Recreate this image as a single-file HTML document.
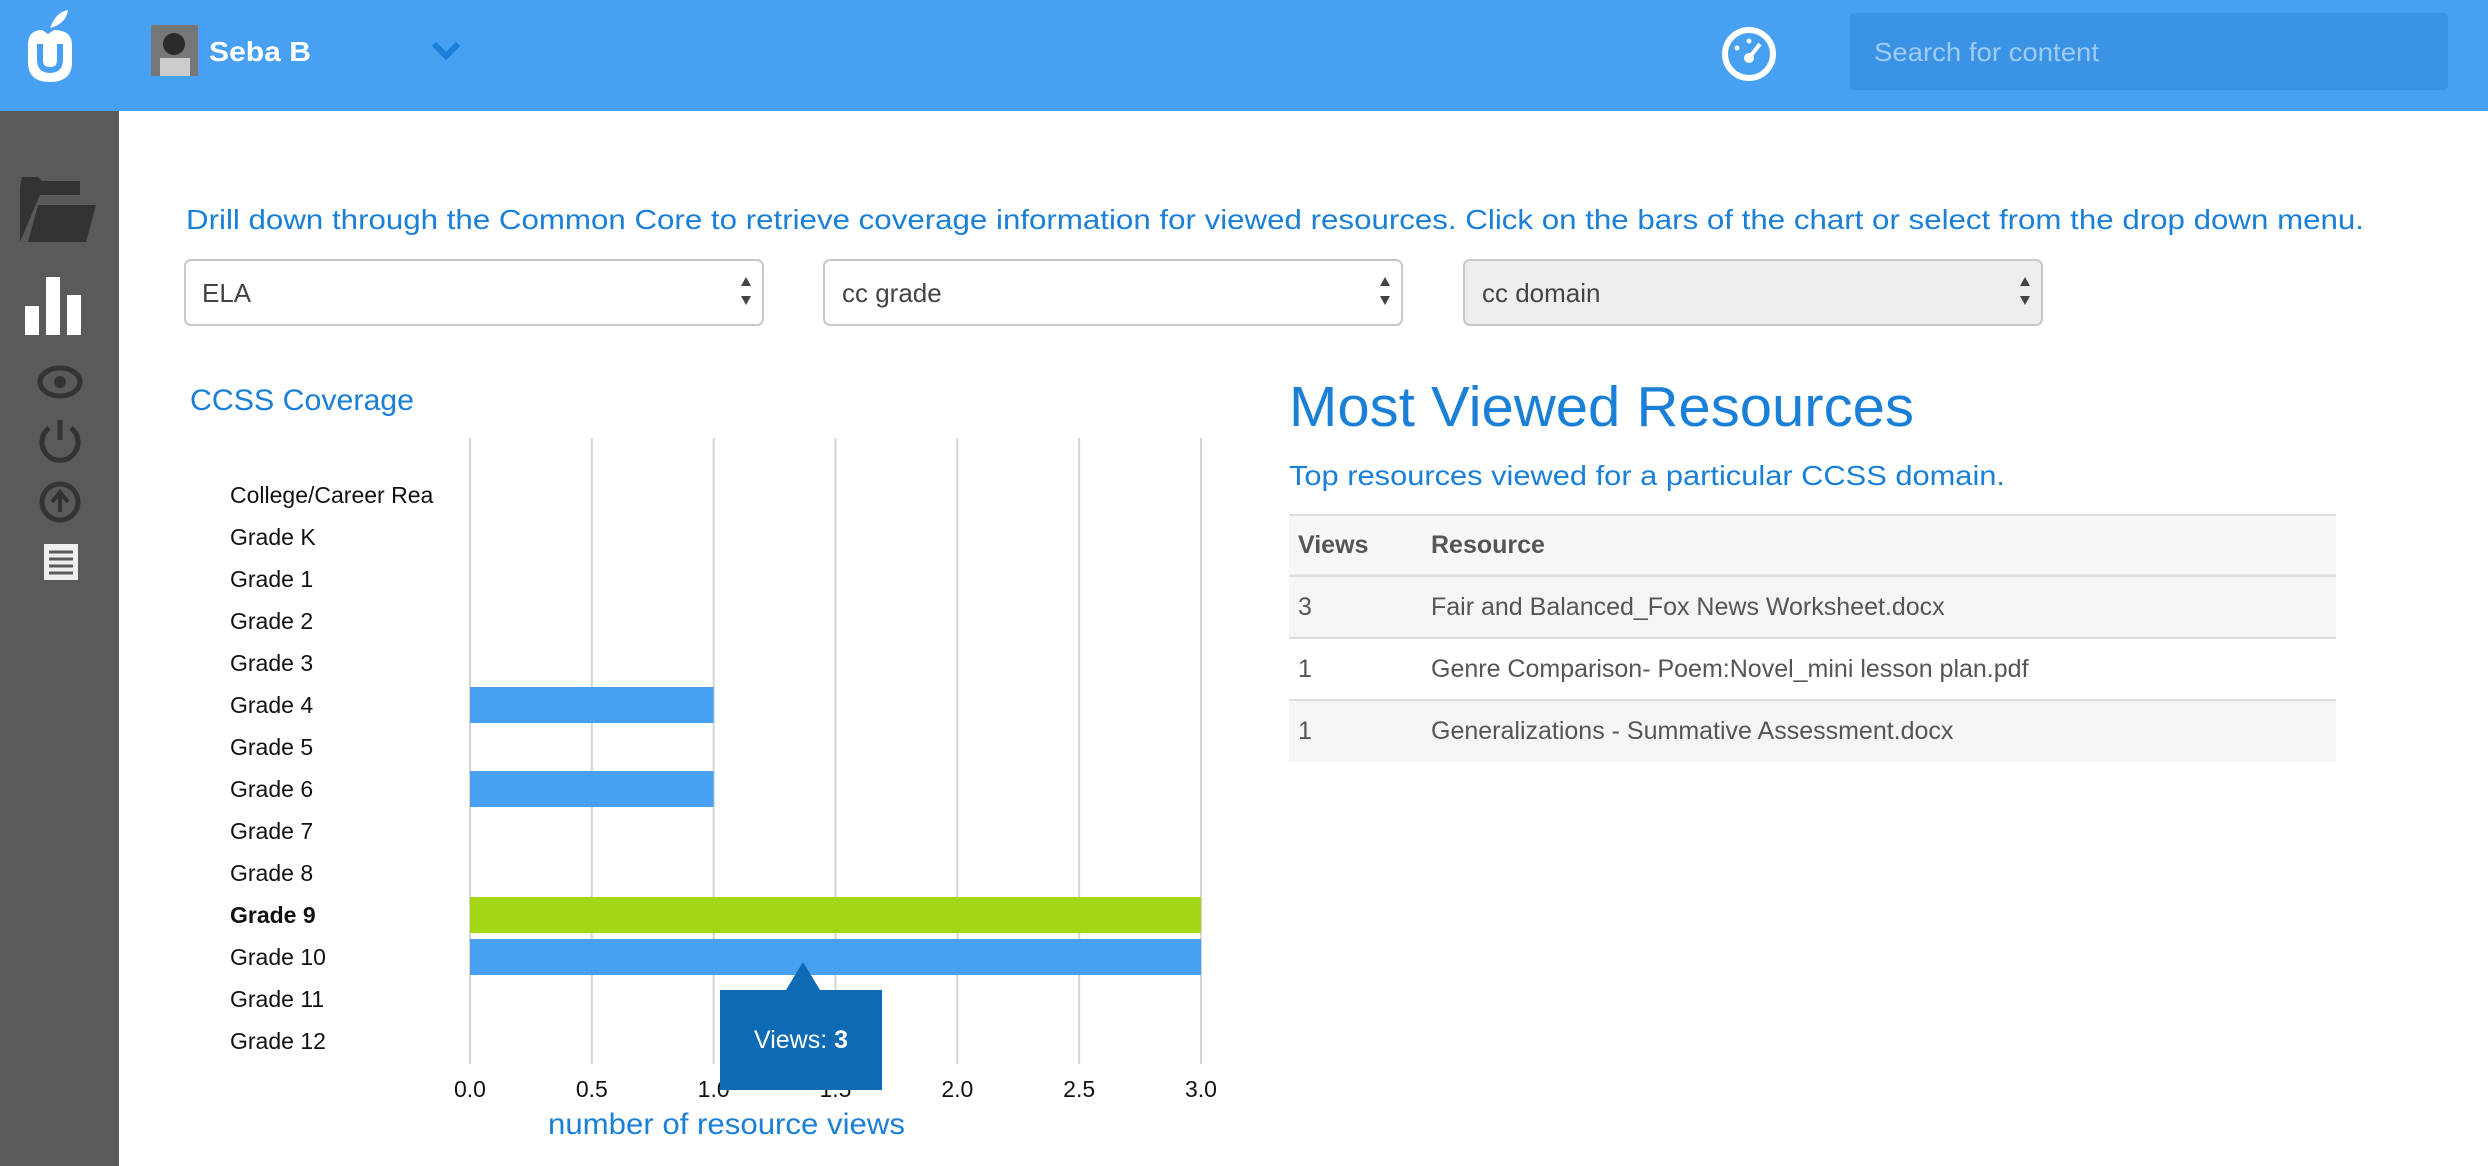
<!DOCTYPE html>
<html><head><meta charset="utf-8">
<style>
html,body{margin:0;padding:0;width:2488px;height:1166px;overflow:hidden;background:#fff;font-family:"Liberation Sans",sans-serif;}
svg text{font-family:"Liberation Sans",sans-serif;}
</style></head>
<body>
<svg id="page" width="2488" height="1166" viewBox="0 0 2488 1166" xmlns="http://www.w3.org/2000/svg">
  <rect x="0" y="0" width="2488" height="111" fill="#47a0f2"/>
  <g>
    <path d="M28 45 Q28 30 42 30 L48 34 L54 30 Q72 30 72 45 L72 62 Q72 82 50 82 Q28 82 28 62 Z" fill="#fff"/>
    <path d="M40 44 L40 60 Q40 70 50 70 Q60 70 60 60 L60 44" fill="none" stroke="#47a0f2" stroke-width="6"/>
    <path d="M50 28 Q56 12 68 10 Q66 24 50 28Z" fill="#fff"/>
  </g>
  <rect x="151" y="25" width="47" height="51" fill="#777"/>
  <circle cx="174" cy="44" r="11" fill="#2b2b2b"/><rect x="160" y="58" width="30" height="18" fill="#ccc"/>
  <text x="209" y="61" font-size="28" font-weight="bold" fill="#fff" textLength="102" lengthAdjust="spacingAndGlyphs">Seba B</text>
  <path d="M434 44 L446 56 L458 44" fill="none" stroke="#1a7fd6" stroke-width="6"/>
  <g>
    <circle cx="1749" cy="54" r="24" fill="none" stroke="#fff" stroke-width="6"/>
    <circle cx="1749" cy="58" r="5" fill="#fff"/><line x1="1749" y1="58" x2="1760" y2="44" stroke="#fff" stroke-width="4"/>
    <circle cx="1737" cy="48" r="2.5" fill="#fff"/><circle cx="1749" cy="41" r="2.5" fill="#fff"/>
  </g>
  <rect x="1850" y="13" width="598" height="77" rx="4" fill="#3b93e6"/>
  <text x="1874" y="61" font-size="26" fill="#9fcbf5" textLength="225" lengthAdjust="spacingAndGlyphs">Search for content</text>

  <rect x="0" y="111" width="119" height="1055" fill="#5a5a5a"/>
  <g fill="#333">
    <path d="M20 187 L20 242 L40 195 L80 195 L80 181 L42 181 L38 177 L22 177Z"/><path d="M28 242 L86 242 L96 205 L38 205Z"/>
  </g>
  <g fill="#fff">
    <rect x="25" y="306" width="14" height="29"/><rect x="46" y="277" width="14" height="58"/><rect x="67" y="295" width="14" height="40"/>
  </g>
  <g><ellipse cx="60" cy="382" rx="20" ry="14" fill="none" stroke="#333" stroke-width="5"/><circle cx="60" cy="382" r="6" fill="#333"/></g>
  <g><path d="M49 428 A18 18 0 1 0 71 428" fill="none" stroke="#333" stroke-width="5"/><line x1="60" y1="420" x2="60" y2="440" stroke="#333" stroke-width="5"/></g>
  <g><circle cx="60" cy="502" r="18" fill="none" stroke="#333" stroke-width="5"/><path d="M52 502 L60 492 L68 502 M60 494 L60 512" stroke="#333" stroke-width="4" fill="none"/></g>
  <g><rect x="44" y="544" width="34" height="36" fill="#eee"/><g stroke="#5a5a5a" stroke-width="3"><line x1="49" y1="552" x2="73" y2="552"/><line x1="49" y1="559" x2="73" y2="559"/><line x1="49" y1="566" x2="73" y2="566"/><line x1="49" y1="573" x2="73" y2="573"/></g></g>

  <text x="186" y="229" font-size="28" fill="#1a7fd6" textLength="2178" lengthAdjust="spacingAndGlyphs">Drill down through the Common Core to retrieve coverage information for viewed resources. Click on the bars of the chart or select from the drop down menu.</text>

  <g>
    <rect x="185" y="260" width="578" height="65" rx="6" fill="#fff" stroke="#c8c8c8" stroke-width="2"/>
    <text x="202" y="302" font-size="26" fill="#444">ELA</text>
    <path d="M741 286 L746 277 L751 286Z M741 296 L746 305 L751 296Z" fill="#444"/>
  </g>
  <g>
    <rect x="824" y="260" width="578" height="65" rx="6" fill="#fff" stroke="#c8c8c8" stroke-width="2"/>
    <text x="842" y="302" font-size="26" fill="#444">cc grade</text>
    <path d="M1380 286 L1385 277 L1390 286Z M1380 296 L1385 305 L1390 296Z" fill="#444"/>
  </g>
  <g>
    <rect x="1464" y="260" width="578" height="65" rx="6" fill="#eeeeee" stroke="#c8c8c8" stroke-width="2"/>
    <text x="1482" y="302" font-size="26" fill="#444">cc domain</text>
    <path d="M2020 286 L2025 277 L2030 286Z M2020 296 L2025 305 L2030 296Z" fill="#444"/>
  </g>

  <text x="190" y="410" font-size="30" fill="#1a7fd6" textLength="224" lengthAdjust="spacingAndGlyphs">CCSS Coverage</text>
  <g id="chart"></g>
  <text x="548" y="1134" font-size="30" fill="#1a7fd6" textLength="357" lengthAdjust="spacingAndGlyphs">number of resource views</text>

  <text x="1289" y="426" font-size="57" fill="#1a7fd6" textLength="625" lengthAdjust="spacingAndGlyphs">Most Viewed Resources</text>
  <text x="1289" y="485" font-size="28" fill="#1a7fd6" textLength="716" lengthAdjust="spacingAndGlyphs">Top resources viewed for a particular CCSS domain.</text>
  <g>
    <rect x="1289" y="515" width="1047" height="61" fill="#f7f7f7"/>
    <line x1="1289" y1="515" x2="2336" y2="515" stroke="#ddd" stroke-width="2"/>
    <line x1="1289" y1="576" x2="2336" y2="576" stroke="#ddd" stroke-width="3"/>
    <text x="1298" y="553" font-size="25" font-weight="bold" fill="#555">Views</text>
    <text x="1431" y="553" font-size="25" font-weight="bold" fill="#555">Resource</text>
    <g><rect x="1289" y="577" width="1047" height="61" fill="#f5f5f5"/><text x="1298" y="615" font-size="25" fill="#555">3</text><text x="1431" y="615" font-size="25" fill="#555">Fair and Balanced_Fox News Worksheet.docx</text></g>
    <line x1="1289" y1="638" x2="2336" y2="638" stroke="#ddd" stroke-width="2"/>
    <g><text x="1298" y="677" font-size="25" fill="#555">1</text><text x="1431" y="677" font-size="25" fill="#555">Genre Comparison- Poem:Novel_mini lesson plan.pdf</text></g>
    <line x1="1289" y1="700" x2="2336" y2="700" stroke="#ddd" stroke-width="2"/>
    <g><rect x="1289" y="701" width="1047" height="61" fill="#f5f5f5"/><text x="1298" y="739" font-size="25" fill="#555">1</text><text x="1431" y="739" font-size="25" fill="#555">Generalizations - Summative Assessment.docx</text></g>
  </g>
</svg>
<script>
const categories = ["College/Career Rea","Grade K","Grade 1","Grade 2","Grade 3","Grade 4","Grade 5","Grade 6","Grade 7","Grade 8","Grade 9","Grade 10","Grade 11","Grade 12"];
const views = [0,0,0,0,0,1,0,1,0,0,3,3,0,0];
const highlighted = ["Grade 9"];
const xTicks = [0,0.5,1,1.5,2,2.5,3];
const xTickLabels = ["0.0","0.5","1.0","1.5","2.0","2.5","3.0"];
const tooltipText = "Views: ";
const tooltipValue = views[11];

const NS = "http://www.w3.org/2000/svg";
const g = document.getElementById("chart");
const X0 = 470, X1 = 1201, XMAX = 3;
const xs = v => X0 + (v / XMAX) * (X1 - X0);
const ROW0 = 495, STEP = 42, BH = 36;
const ys = i => ROW0 + i * STEP;
function mk(tag, attrs){const e=document.createElementNS(NS,tag);for(const k in attrs)e.setAttribute(k,attrs[k]);g.appendChild(e);return e;}

xTicks.forEach((t,i)=>{
  const l = mk("line",{x1:xs(t),x2:xs(t),y1:438,y2:1064,stroke:"#d4d4d4","stroke-width":2});
  
  
  const tx = mk("text",{x:xs(t),y:1097,"font-size":23,"text-anchor":"middle",fill:"#111"});
  tx.textContent = xTickLabels[i];
  
  
});
categories.forEach((c,i)=>{
  const hl = highlighted.includes(c);
  const tx = mk("text",{x:230,y:ys(i)+8,"font-size":23,fill:"#111","font-weight":hl?"bold":"normal"});
  tx.textContent = c;
  
  
  if(views[i]>0){
    const r = mk("rect",{x:xs(0),y:ys(i)-BH/2,width:xs(views[i])-xs(0),height:BH,fill:hl?"#a3d615":"#47a0f2"});
    
    
  }
});
const tt = mk("path",{d:"M720 990 L786 990 L803 962 L820 990 L882 990 L882 1090 L720 1090 Z",fill:"#0e6bb3"});


const ttx = mk("text",{x:801,y:1048,"font-size":25,fill:"#fff","text-anchor":"middle"});
ttx.innerHTML = tooltipText + "<tspan font-weight='bold'>" + tooltipValue + "</tspan>";


</script>
</body></html>
